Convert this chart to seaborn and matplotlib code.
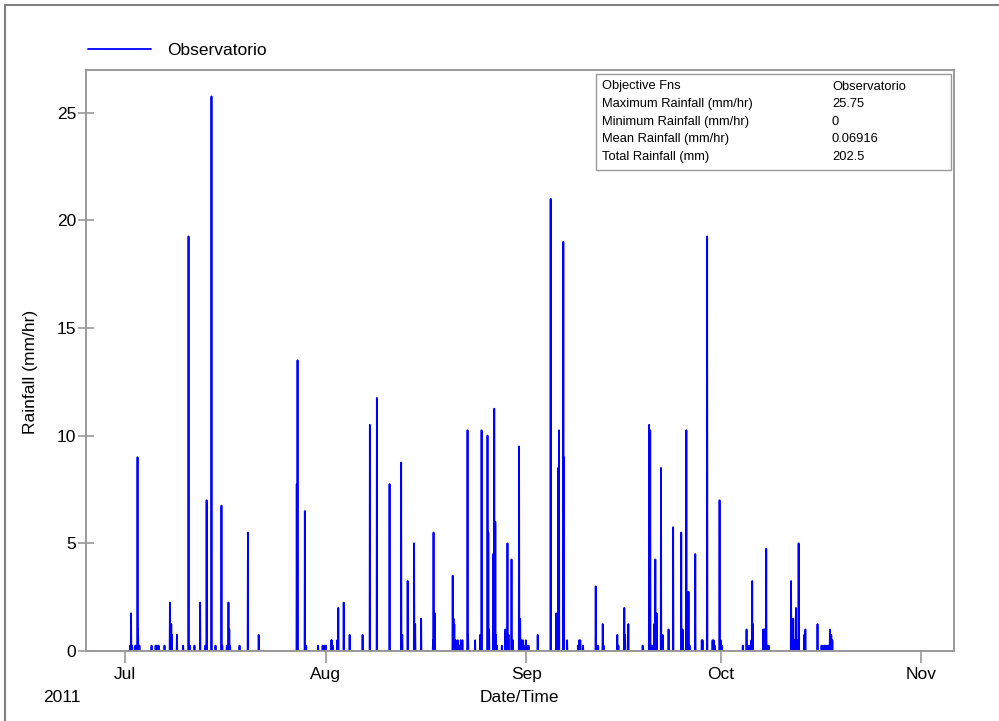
import pandas as pd
import seaborn as sns
import matplotlib.pyplot as plt
import matplotlib.dates as mdates
from matplotlib.lines import Line2D
from matplotlib.patches import Rectangle

# hourly rainfall events (all other hours are 0)
event_times = [
    "2011-07-01 20:00", "2011-07-01 23:00", "2011-07-02 03:00", "2011-07-02 15:00",
    "2011-07-02 23:00", "2011-07-03 01:00", "2011-07-03 06:00", "2011-07-05 03:00",
    "2011-07-05 18:00", "2011-07-05 23:00", "2011-07-06 05:00", "2011-07-07 03:00",
    "2011-07-07 23:00", "2011-07-08 04:00", "2011-07-08 06:00", "2011-07-09 01:00",
    "2011-07-10 00:00", "2011-07-10 20:00", "2011-07-11 01:00", "2011-07-11 18:00",
    "2011-07-12 15:00", "2011-07-13 10:00", "2011-07-13 15:00", "2011-07-14 09:00",
    "2011-07-15 00:00", "2011-07-15 22:00", "2011-07-16 01:00", "2011-07-16 18:00",
    "2011-07-17 00:00", "2011-07-17 03:00", "2011-07-17 06:00", "2011-07-18 17:00",
    "2011-07-20 00:00", "2011-07-21 16:00", "2011-07-27 13:00", "2011-07-27 16:00",
    "2011-07-28 19:00", "2011-07-29 00:00", "2011-07-30 20:00", "2011-07-31 13:00",
    "2011-07-31 19:00", "2011-08-01 01:00", "2011-08-01 21:00", "2011-08-01 23:00",
    "2011-08-02 03:00", "2011-08-02 19:00", "2011-08-02 23:00", "2011-08-03 19:00",
    "2011-08-04 17:00", "2011-08-06 17:00", "2011-08-07 20:00", "2011-08-08 22:00",
    "2011-08-10 21:00", "2011-08-12 16:00", "2011-08-12 20:00", "2011-08-13 16:00",
    "2011-08-14 16:00", "2011-08-14 20:00", "2011-08-15 18:00", "2011-08-17 14:00",
    "2011-08-17 16:00", "2011-08-17 21:00", "2011-08-20 15:00", "2011-08-20 18:00",
    "2011-08-20 21:00", "2011-08-21 02:00", "2011-08-21 06:00", "2011-08-21 10:00",
    "2011-08-21 15:00", "2011-08-21 21:00", "2011-08-22 03:00", "2011-08-22 22:00",
    "2011-08-23 00:00", "2011-08-24 02:00", "2011-08-24 21:00", "2011-08-25 02:00",
    "2011-08-26 00:00", "2011-08-26 03:00", "2011-08-26 06:00", "2011-08-26 21:00",
    "2011-08-27 01:00", "2011-08-27 05:00", "2011-08-27 07:00", "2011-08-27 11:00",
    "2011-08-28 05:00", "2011-08-28 18:00", "2011-08-29 02:00", "2011-08-29 06:00",
    "2011-08-29 17:00", "2011-08-29 22:00", "2011-08-30 21:00", "2011-08-31 01:00",
    "2011-08-31 06:00", "2011-08-31 11:00", "2011-08-31 17:00", "2011-08-31 22:00",
    "2011-09-01 04:00", "2011-09-01 08:00", "2011-09-02 18:00", "2011-09-04 18:00",
    "2011-09-05 15:00", "2011-09-05 22:00", "2011-09-06 01:00", "2011-09-06 17:00",
    "2011-09-06 19:00", "2011-09-07 07:00", "2011-09-09 00:00", "2011-09-09 04:00",
    "2011-09-09 08:00", "2011-09-09 18:00", "2011-09-11 17:00", "2011-09-11 22:00",
    "2011-09-12 02:00", "2011-09-12 19:00", "2011-09-12 22:00", "2011-09-15 01:00",
    "2011-09-15 05:00", "2011-09-16 03:00", "2011-09-16 06:00", "2011-09-16 18:00",
    "2011-09-18 23:00", "2011-09-19 23:00", "2011-09-20 03:00", "2011-09-20 08:00",
    "2011-09-20 13:00", "2011-09-20 18:00", "2011-09-20 22:00", "2011-09-21 03:00",
    "2011-09-21 19:00", "2011-09-21 21:00", "2011-09-22 01:00", "2011-09-22 23:00",
    "2011-09-23 16:00", "2011-09-24 22:00", "2011-09-25 03:00", "2011-09-25 17:00",
    "2011-09-26 01:00", "2011-09-26 05:00", "2011-09-27 02:00", "2011-09-28 02:00",
    "2011-09-28 05:00", "2011-09-28 22:00", "2011-09-29 18:00", "2011-09-29 22:00",
    "2011-09-30 02:00", "2011-09-30 20:00", "2011-10-01 00:00", "2011-10-01 05:00",
    "2011-10-04 10:00", "2011-10-05 00:00", "2011-10-05 04:00", "2011-10-05 09:00",
    "2011-10-05 13:00", "2011-10-05 18:00", "2011-10-05 21:00", "2011-10-05 23:00",
    "2011-10-07 14:00", "2011-10-07 18:00", "2011-10-07 21:00", "2011-10-08 01:00",
    "2011-10-08 05:00", "2011-10-08 10:00", "2011-10-11 21:00", "2011-10-12 00:00",
    "2011-10-12 05:00", "2011-10-12 09:00", "2011-10-12 15:00", "2011-10-12 19:00",
    "2011-10-13 01:00", "2011-10-13 22:00", "2011-10-14 02:00", "2011-10-15 23:00",
    "2011-10-16 14:00", "2011-10-16 19:00", "2011-10-17 00:00", "2011-10-17 04:00",
    "2011-10-17 11:00", "2011-10-17 16:00", "2011-10-17 21:00", "2011-10-18 02:00",
    "2011-10-18 06:00",
]
rain_values = [
    0.25, 1.75, 0.25, 0.25,
    9.0, 1.0, 0.25, 0.25,
    0.25, 0.25, 0.25, 0.25,
    2.25, 1.25, 0.75, 0.75,
    0.25, 19.25, 0.25, 0.25,
    2.25, 0.25, 7.0, 25.75,
    0.25, 6.75, 0.25, 0.25,
    2.25, 1.0, 0.25, 0.25,
    5.5, 0.75, 7.75, 13.5,
    6.5, 0.25, 0.25, 0.25,
    0.25, 0.25, 0.5, 0.5,
    0.25, 0.5, 2.0, 2.25,
    0.75, 0.75, 10.5, 11.75,
    7.75, 8.75, 0.75, 3.25,
    5.0, 1.25, 1.5, 0.5,
    5.5, 1.75, 3.5, 1.5,
    1.25, 0.5, 0.25, 0.5,
    0.25, 0.5, 0.5, 10.25,
    0.75, 0.5, 0.75, 10.25,
    10.0, 5.5, 1.0, 4.5,
    11.25, 6.0, 0.75, 0.25,
    0.25, 1.0, 5.0, 0.75,
    4.25, 0.5, 9.5, 1.5,
    0.5, 0.5, 0.25, 0.5,
    0.25, 0.25, 0.75, 21.0,
    1.75, 8.5, 10.25, 19.0,
    9.0, 0.5, 0.25, 0.5,
    0.5, 0.25, 3.0, 0.25,
    0.25, 1.25, 0.25, 0.75,
    0.25, 2.0, 0.75, 1.25,
    0.25, 10.5, 10.25, 0.25,
    0.25, 1.25, 4.25, 1.75,
    8.5, 0.75, 0.75, 1.0,
    5.75, 5.5, 1.0, 10.25,
    2.75, 0.25, 4.5, 0.5,
    0.5, 19.25, 0.5, 0.5,
    0.25, 7.0, 0.5, 0.25,
    0.25, 1.0, 0.25, 0.25,
    0.25, 0.5, 3.25, 1.25,
    1.0, 1.0, 1.0, 4.75,
    0.25, 0.25, 3.25, 1.5,
    1.5, 0.5, 2.0, 0.5,
    5.0, 0.75, 1.0, 1.25,
    0.25, 0.25, 0.25, 0.25,
    0.25, 0.25, 1.0, 0.75,
    0.5,
]

station = "Observatorio"
stat_names = ["Objective Fns", "Maximum Rainfall (mm/hr)", "Minimum Rainfall (mm/hr)",
              "Mean Rainfall (mm/hr)", "Total Rainfall (mm)"]
stat_values = [station, "25.75", "0", "0.06916", "202.5"]
year_label = "2011"

# hourly series, zero where no rain was recorded
hours = pd.date_range("2011-07-01 00:00", "2011-10-31 23:00", freq="h")
events = pd.Series(rain_values, index=pd.to_datetime(event_times))
rain = events.groupby(level=0).max().reindex(hours, fill_value=0.0)
df = pd.DataFrame({"time": hours, "rain": rain.values})

sns.set_style("white")
plt.rcParams["font.family"] = ["Liberation Sans", "DejaVu Sans"]
plt.rcParams["text.color"] = "black"
plt.rcParams["axes.labelcolor"] = "black"
plt.rcParams["xtick.color"] = "black"
plt.rcParams["ytick.color"] = "black"

W, H = 999, 721
fig = plt.figure(figsize=(W / 100, H / 100), dpi=100)

# axes box in pixels
L, R, T, B = 86, 953.5, 69.5, 651
ax = fig.add_axes([L / W, 1 - B / H, (R - L) / W, (B - T) / H])


def ax_xy(px, py):
    return (px - L) / (R - L), (B - py) / (B - T)


sns.lineplot(data=df, x="time", y="rain", color="#0000ff", linewidth=1.3,
             estimator=None, label=station, ax=ax)

ax.set_xlim(pd.Timestamp("2011-06-25 00:00"), pd.Timestamp("2011-11-05 23:00"))
ax.set_ylim(0, 27)
ax.xaxis.set_major_locator(mdates.MonthLocator())
ax.xaxis.set_major_formatter(mdates.DateFormatter("%b"))
ax.set_yticks([0, 5, 10, 15, 20, 25])

grey = "#9a9a9a"
for sp in ax.spines.values():
    sp.set_color(grey)
    sp.set_linewidth(1.4)
ax.tick_params(axis="x", bottom=True, direction="out", length=8.6, width=1.2,
               color=grey, labelcolor="black", labelsize=12.5, pad=3)
ax.tick_params(axis="y", left=True, direction="inout", length=12, width=1.2,
               color=grey, labelcolor="black", labelsize=12.5, pad=1)

ax.set_xlabel("Date/Time", fontsize=12.5, va="center", color="black")
ax.xaxis.set_label_coords(0.5, ax_xy(0, 697)[1])
ax.set_ylabel("Rainfall (mm/hr)", fontsize=12.5, va="center", color="black")
ax.yaxis.set_label_coords(ax_xy(30, 0)[0], ax_xy(0, 372)[1])

fig.text(43 / W, 1 - 697 / H, year_label, fontsize=12.5, ha="left", va="center",
         color="black")

leg = ax.legend(loc="center left", bbox_to_anchor=ax_xy(88, 50.5), frameon=False,
                handlelength=3.6, handletextpad=0.95, borderpad=0, borderaxespad=0,
                fontsize=12.5)
for t in leg.get_texts():
    t.set_color("black")

# statistics box
x0, y0 = ax_xy(596, 170)
x1, y1 = ax_xy(951, 74)
ax.add_patch(Rectangle((x0, y0), x1 - x0, y1 - y0, transform=ax.transAxes,
                       facecolor="white", edgecolor=grey, linewidth=1.0, zorder=5))
for i, (name, val) in enumerate(zip(stat_names, stat_values)):
    py = 86.5 + 17.6 * i
    ax.text(*ax_xy(602, py), name, transform=ax.transAxes, fontsize=9.3,
            va="center", ha="left", color="black", zorder=6)
    ax.text(*ax_xy(832, py), val, transform=ax.transAxes, fontsize=9.3,
            va="center", ha="left", color="black", zorder=6)

# window frame lines at top and left
fig.add_artist(Line2D([5 / W, 1], [1 - 5 / H, 1 - 5 / H], color="#808080", lw=1.5))
fig.add_artist(Line2D([5 / W, 5 / W], [0, 1 - 5 / H], color="#808080", lw=1.5))

fig.savefig("out.png", dpi=100)
